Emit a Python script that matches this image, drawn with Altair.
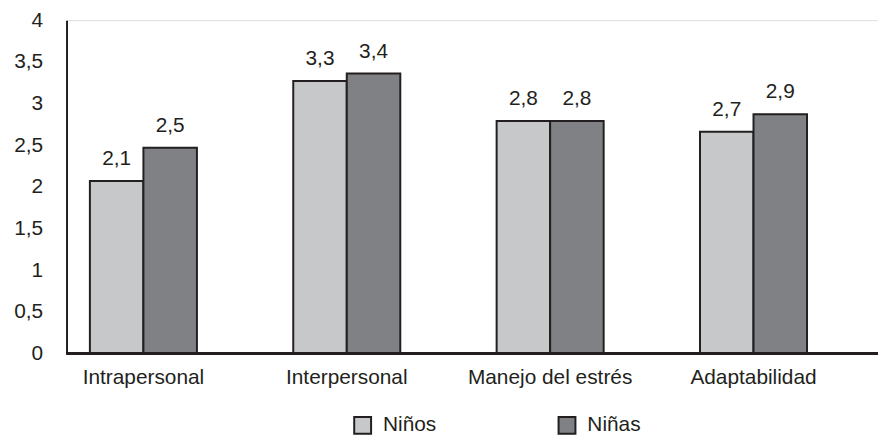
import altair as alt
import pandas as pd

categories = ["Intrapersonal", "Interpersonal", "Manejo del estrés", "Adaptabilidad"]
groups = ["Niños", "Niñas"]
ninos = [2.07, 3.27, 2.79, 2.66]
ninas = [2.47, 3.36, 2.79, 2.87]
y_ticks = [0, 0.5, 1, 1.5, 2, 2.5, 3, 3.5, 4]

rows = []
for c, a, b in zip(categories, ninos, ninas):
    rows.append({"cat": c, "g": groups[0], "v": a})
    rows.append({"cat": c, "g": groups[1], "v": b})
df = pd.DataFrame(rows)

INK = "#231f20"
FONT = "Liberation Sans"
FS = 21
W, H = 818, 336

x = alt.X("cat:N", sort=categories,
          scale=alt.Scale(range=[-25, 795], paddingInner=0, paddingOuter=0),
          axis=alt.Axis(title=None, labelAngle=0, ticks=False, domain=False,
                        labelPadding=13, labelFontSize=FS, labelColor=INK, labelFont=FONT))
xo = alt.XOffset("g:N", sort=groups, scale=alt.Scale(paddingOuter=0.9, paddingInner=0))
y = alt.Y("v:Q", scale=alt.Scale(domain=[0, 4], nice=False),
          axis=alt.Axis(title=None, values=y_ticks, grid=False, ticks=False,
                        domain=True, domainColor=INK, domainWidth=2,
                        labelExpr="replace('' + datum.value, '.', ',')",
                        labelPadding=24, labelFontSize=FS, labelColor=INK, labelFont=FONT))
color = alt.Color("g:N", sort=groups,
                  scale=alt.Scale(domain=groups, range=["#c7c8ca", "#808184"]),
                  legend=alt.Legend(title=None, orient="none", legendX=288, legendY=398,
                                    direction="horizontal", symbolType="square",
                                    symbolSize=289, symbolStrokeColor=INK,
                                    symbolStrokeWidth=2, symbolOpacity=1,
                                    labelFontSize=FS, labelFont=FONT, labelColor=INK,
                                    columnPadding=119, labelOffset=10))

base = alt.Chart(df)
bars = base.mark_bar(stroke=INK, strokeWidth=2).encode(x=x, xOffset=xo, y=y, color=color)
labels = base.transform_calculate(
    lab="replace(format(datum.v, '.1f'), '.', ',')"
).mark_text(baseline="alphabetic", dy=-16, fontSize=FS, font=FONT, color=INK).encode(
    x=x, xOffset=xo, y=y, text="lab:N")
rule = base.mark_rule(color=INK, strokeWidth=2).encode(
    y=alt.datum(0), x=alt.value(0), x2=alt.value(W))

chart = alt.layer(bars, labels, rule).properties(
    width=W, height=H,
    autosize=alt.AutoSizeParams(type="none"),
    padding={"left": 59, "top": 10.5, "right": 0, "bottom": 86}
).configure_view(stroke=None).configure(font=FONT)

chart.save("out.html", embed_options={"renderer": "svg", "actions": False})
